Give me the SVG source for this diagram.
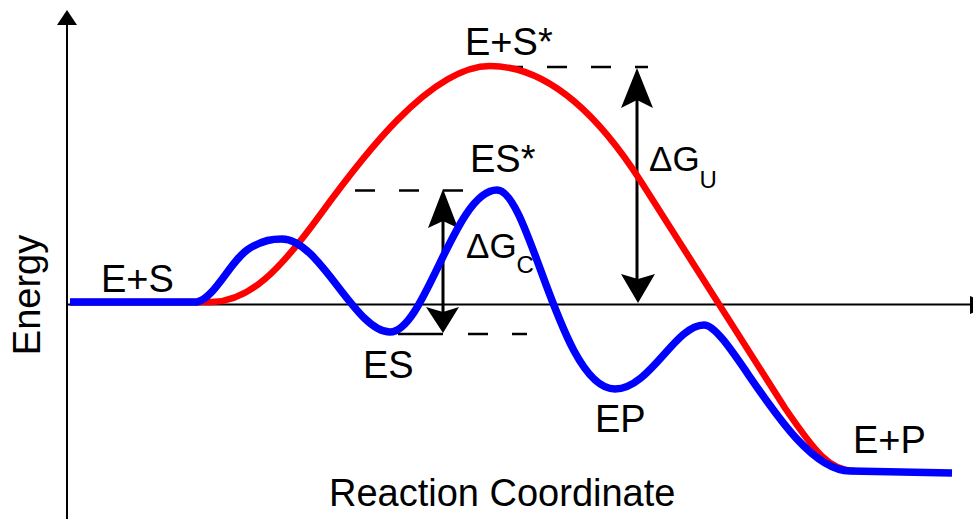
<svg xmlns="http://www.w3.org/2000/svg" width="973" height="519" viewBox="0 0 973 519">
<style>
text{font-family:"Liberation Sans",Arial,sans-serif;fill:#000}
.lbl{font-size:38px}
.dg{font-size:35px}
.sub{font-size:24px}
.axis{stroke:#000;stroke-width:2;fill:none}
.dash{stroke:#000;stroke-width:2.5;fill:none;stroke-dasharray:20 24}
.dash2{stroke:#000;stroke-width:2.5;fill:none}
.shaft{stroke:#000;stroke-width:3;fill:none}
.head{fill:#000;stroke:none}
.red{stroke:#ff0000;stroke-width:6.5;fill:none;stroke-linejoin:round}
.blue{stroke:#0000ff;stroke-width:7.5;fill:none;stroke-linejoin:round}
</style>
<rect width="973" height="519" fill="#fff"/>
<g id="axes">
<line class="axis" x1="67" y1="519" x2="67" y2="22"/>
<polygon class="head" points="67,10 77,25 57,25"/>
<line class="axis" x1="67" y1="304.5" x2="972" y2="304.5"/>
<polygon class="head" points="970,296 990,305 970,314"/>
</g>
<g id="connectors">
<path class="dash" d="M503,67 H648"/>
<path class="dash" d="M355,190.5 H502"/>
<path class="dash2" d="M398,334 H443 M468,334 H488 M512,334 H527"/>
<line class="shaft" x1="443" y1="215" x2="443" y2="315"/>
<polygon class="head" points="443,189 458,228 443,221 428,228"/>
<polygon class="head" points="443,333 459,307 443,312 426,307"/>
<line class="shaft" x1="637" y1="95" x2="637" y2="282"/>
<polygon class="head" points="637,68 653,108 637,100 621,108"/>
<polygon class="head" points="638,303 655,274 638,279 621,274"/>
</g>
<g id="curve-uncatalyzed">
<path class="red" d="M70,302 L212,302 C250,301 280,270 320,215 C360,160 430,66 490,66 C550,66 600,118 640,180 L785,408 C815,452 830,471 855,471"/>
</g>
<g id="curve-catalyzed">
<path class="blue" d="M70,302 L197,302 C215,298 232,258 250,248 C264,240 272,239 282,239 C320,239 355,332 390,332 C425,332 455,190 497,190 C530,190 560,389 615,389 C650,389 675,325 704,325 C730,325 790,470 850,471 L952,473"/>
</g>
<g id="labels">
<text class="lbl" x="465" y="55">E+S*</text>
<text class="lbl" x="470" y="172">ES*</text>
<text class="dg" x="649" y="171">ΔG<tspan class="sub" dy="17">U</tspan></text>
<text class="dg" x="466" y="258">ΔG<tspan class="sub" dy="15">C</tspan></text>
<text class="lbl" x="101" y="292">E+S</text>
<text class="lbl" x="363" y="378">ES</text>
<text class="lbl" x="595" y="432">EP</text>
<text class="lbl" x="853" y="453">E+P</text>
<text class="lbl" x="329" y="506">Reaction Coordinate</text>
<text class="lbl" x="0" y="0" text-anchor="middle" transform="translate(40,295) rotate(-90)">Energy</text>
</g>
</svg>
